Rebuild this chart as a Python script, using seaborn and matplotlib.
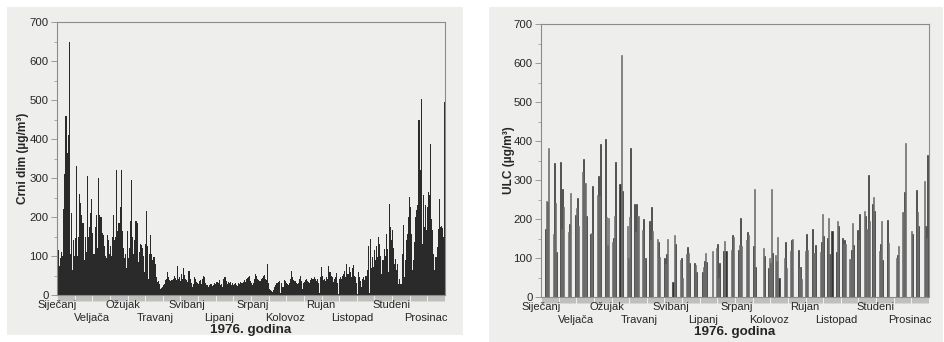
import numpy as np
import pandas as pd
import matplotlib
matplotlib.use("Agg")
import matplotlib.pyplot as plt
from matplotlib.patches import Rectangle
from matplotlib.ticker import MultipleLocator, NullFormatter
import seaborn as sns

# Month names and where each name sits on the day axis
months = ["Siječanj", "Veljača", "Ožujak", "Travanj", "Svibanj", "Lipanj",
          "Srpanj", "Kolovoz", "Rujan", "Listopad", "Studeni", "Prosinac"]
month_label_days = [0, 33, 62, 92, 122, 152, 184, 215, 248, 278, 315, 347]

# Daily black smoke concentrations (µg/m³), 1976
smoke_jan = [170, 115, 75, 95, 110, 100, 220, 310, 460, 365, 410, 650, 105, 210, 65, 140,
             100, 145, 330, 100, 150, 260, 235, 205, 185, 90, 150, 110, 305, 150, 175]
smoke_feb = [210, 245, 160, 105, 105, 175, 205, 120, 300, 205, 200, 160, 155, 125, 100,
             95, 155, 140, 105, 125, 100, 150, 205, 140, 150, 320, 165, 185, 225]
smoke_mar = [320, 165, 120, 95, 105, 70, 165, 95, 120, 190, 295, 150, 105, 140, 190, 185,
             85, 110, 130, 128, 120, 100, 60, 130, 215, 125, 40, 105, 155, 105, 90]
smoke_apr = [97, 80, 46, 33, 35, 29, 16, 18, 21, 25, 29, 38, 40, 59, 45, 39, 36, 38, 42,
             50, 44, 38, 74, 40, 46, 35, 55, 40, 68, 52]
smoke_may = [40, 38, 33, 62, 42, 30, 20, 28, 46, 40, 33, 30, 28, 36, 38, 29, 40, 50, 46,
             30, 25, 21, 26, 29, 28, 24, 25, 30, 28, 34, 33]
smoke_jun = [30, 38, 25, 28, 20, 42, 47, 35, 29, 34, 30, 33, 26, 32, 25, 28, 30, 25, 22,
             30, 28, 34, 30, 34, 38, 34, 40, 44, 46, 49]
smoke_jul = [36, 30, 25, 32, 40, 54, 49, 42, 38, 35, 40, 43, 48, 51, 40, 38, 79, 30, 16,
             12, 10, 8, 14, 20, 26, 30, 34, 36, 4, 30, 20]
smoke_aug = [20, 38, 35, 32, 28, 25, 30, 40, 62, 45, 38, 35, 30, 28, 30, 40, 49, 35, 16,
             30, 34, 38, 41, 36, 34, 30, 38, 43, 40, 46, 42]
smoke_sep = [35, 42, 30, 5, 45, 72, 50, 38, 42, 35, 46, 40, 74, 59, 50, 46, 33, 40, 46,
             56, 30, 3, 40, 46, 42, 50, 55, 62, 45, 80]
smoke_oct = [55, 72, 60, 46, 68, 78, 50, 46, 30, 3, 59, 46, 35, 21, 40, 46, 38, 50, 63,
             126, 5, 144, 70, 97, 72, 115, 90, 126, 97, 149, 132]
smoke_nov = [100, 55, 89, 119, 100, 157, 119, 60, 234, 174, 140, 166, 120, 80, 93, 63,
             80, 29, 40, 27, 106, 179, 46, 90, 140, 157, 200, 251, 226, 157]
smoke_dec = [63, 89, 137, 200, 217, 230, 448, 320, 503, 132, 256, 174, 230, 166, 226, 264,
             256, 388, 196, 166, 106, 63, 98, 123, 169, 245, 174, 177, 173, 150, 495]

# ULC (µg/m³): sampled days of the year and the measured values
ulc_days = [4, 5, 6, 7, 11, 12, 13, 14, 18, 19, 20, 21, 25, 26, 27,
            32, 33, 34, 35, 39, 40, 41, 42, 46, 47, 48, 53, 54, 55, 56,
            60, 61, 62, 63, 67, 68, 69, 70, 74, 75, 76, 81, 82, 83, 84, 88, 89, 90,
            91, 95, 96, 97, 98, 102, 103, 104, 105, 109, 110, 111, 116, 117, 118, 119,
            124, 125, 126, 131, 132, 133, 137, 138, 139, 140, 144, 145, 146,
            152, 153, 154, 155, 156, 161, 165, 166, 167, 168, 172, 173, 174, 179, 180, 181,
            186, 187, 188, 189, 193, 194, 195, 200, 201, 202, 209, 210,
            214, 215, 216, 217, 218, 221, 222, 223, 224, 229, 230, 231, 235, 236, 237, 242, 243,
            244, 245, 249, 250, 251, 256, 257, 258, 263, 264, 265, 266, 270, 271, 272,
            274, 278, 279, 280, 284, 285, 286, 287, 291, 292, 293, 294, 298, 299, 300,
            305, 306, 307, 308, 309, 312, 313, 314, 319, 320, 321, 322, 326, 327,
            335, 336, 337, 341, 342, 343, 349, 350, 354, 355, 356, 361, 362, 363, 364]
ulc_values = [174, 247, 244, 383, 162, 343, 240, 115, 347, 174, 278, 231, 167, 186, 266,
              211, 229, 254, 182, 321, 353, 293, 208, 161, 164, 285, 262, 311, 260, 392,
              404, 206, 133, 202, 142, 152, 207, 347, 290, 620, 273, 183, 101, 206, 381, 238, 166, 238,
              208, 173, 200, 99, 99, 195, 145, 230, 170, 150, 142, 103, 100, 85, 110, 150,
              39, 159, 135, 95, 101, 50, 111, 127, 114, 88, 88, 82, 65,
              65, 78, 92, 112, 91, 117, 125, 135, 50, 88, 117, 143, 117, 120, 159, 154,
              120, 133, 202, 130, 146, 167, 159, 131, 278, 78, 125, 106,
              75, 99, 88, 278, 113, 108, 92, 153, 48, 101, 140, 74, 117, 146, 148, 120, 74,
              76, 46, 118, 161, 120, 174, 113, 133, 116, 142, 212, 157, 151, 203, 111,
              169, 116, 195, 182, 151, 135, 145, 137, 97, 120, 189, 133, 172, 146, 212,
              220, 208, 174, 313, 196, 238, 256, 221, 118, 135, 194, 96, 197, 138,
              101, 107, 130, 218, 269, 394, 169, 161, 275, 217, 182, 297, 182, 152, 364]

smoke = (smoke_jan + smoke_feb + smoke_mar + smoke_apr + smoke_may + smoke_jun
         + smoke_jul + smoke_aug + smoke_sep + smoke_oct + smoke_nov + smoke_dec)
n_days = len(smoke)
day = np.arange(n_days)

ulc = np.zeros(n_days)
ulc[ulc_days] = ulc_values

smoke_df = pd.DataFrame({"day": day, "value": smoke})
ulc_df = pd.DataFrame({"day": day, "value": ulc,
                       "shade": np.where(day % 2 == 0, "dark", "light")})

sns.set_theme(style="white")
plt.rcParams["font.family"] = ["Liberation Sans", "DejaVu Sans"]

PAPER = "#eeeeec"
SPINE = "#8c8c8c"
TEXT = "#262626"

fig = plt.figure(figsize=(9.44, 3.42), dpi=100, facecolor="white")
W, H = 944, 342
fig.patches.append(Rectangle((7 / W, 7 / H), 456 / W, 328 / H, transform=fig.transFigure,
                             facecolor=PAPER, edgecolor="none", zorder=-10))
fig.patches.append(Rectangle((489 / W, 0), 454 / W, 335 / H, transform=fig.transFigure,
                             facecolor=PAPER, edgecolor="none", zorder=-10))

ax1 = fig.add_axes([57 / W, 47 / H, 388 / W, 273 / H])
ax2 = fig.add_axes([541 / W, 45 / H, 388 / W, 273 / H])

sns.barplot(data=smoke_df, x="day", y="value", native_scale=True, color="#2a2a2a",
            saturation=1, width=1.0, linewidth=0, edgecolor="none", errorbar=None, ax=ax1)
sns.barplot(data=ulc_df, x="day", y="value", hue="shade", native_scale=True, dodge=False,
            palette={"dark": "#333333", "light": "#6e6e6e"}, saturation=1, width=1.0,
            linewidth=0, edgecolor="none", errorbar=None, legend=False, ax=ax2)

# give the thin ULC bars a solid outline in their own colour so they read as strokes
for p in ax2.patches:
    p.set_edgecolor(p.get_facecolor())
    p.set_linewidth(0.45)

for ax, ylab, lx in [(ax1, "Crni dim (µg/m³)", -0.072), (ax2, "ULC (µg/m³)", -0.068)]:
    ax.set_facecolor("none")
    ax.set_xlim(-0.5, n_days - 0.5)
    ax.set_ylim(0, 700)
    ax.yaxis.set_major_locator(MultipleLocator(100))
    ax.yaxis.set_minor_locator(MultipleLocator(50))
    ax.xaxis.set_major_locator(MultipleLocator(1))
    ax.xaxis.set_major_formatter(NullFormatter())
    ax.tick_params(axis="y", which="major", left=True, length=4, width=0.6, color=SPINE,
                   labelsize=8.2, labelcolor=TEXT, pad=2)
    ax.tick_params(axis="y", which="minor", left=True, length=2.5, width=0.5, color=SPINE)
    ax.tick_params(axis="x", which="major", bottom=True, length=4.5, width=0.4,
                   color="#9a9a9a")
    for s in ax.spines.values():
        s.set_visible(True)
        s.set_color(SPINE)
        s.set_linewidth(0.8)

    # month names in two staggered rows under the axis
    for i, (m, d) in enumerate(zip(months, month_label_days)):
        ax.annotate(m, xy=(d, 0), xycoords=("data", "axes fraction"),
                    xytext=(0, -7 if i % 2 == 0 else -16.5), textcoords="offset points",
                    ha="center", va="center", fontsize=8, color=TEXT)

    ax.set_xlabel("1976. godina", fontsize=9.6, fontweight="bold", color=TEXT, va="center")
    ax.xaxis.set_label_coords(0.5, -0.13)
    ax.set_ylabel(ylab, fontsize=8.6, fontweight="bold", color=TEXT)
    ax.yaxis.set_label_coords(lx, 0.5)

fig.savefig("out.png", dpi=100, facecolor="white")
